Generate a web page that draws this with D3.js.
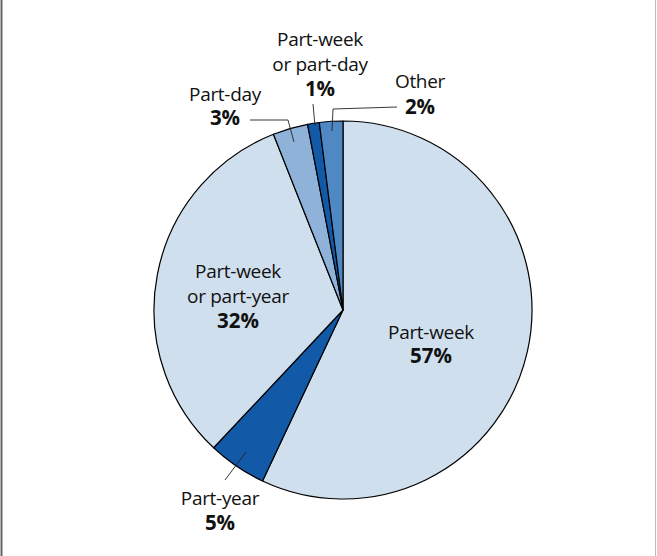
<!DOCTYPE html>
<html><head><meta charset="utf-8">
<script src="https://cdn.jsdelivr.net/npm/d3@7"></script>
<style>body{margin:0;background:#fff}text{font-family:"Open Sans","Noto Sans",sans-serif;font-size:19px;fill:#111;letter-spacing:-0.3px}</style>
</head><body><svg id="c" width="657" height="556"></svg>
<script>
const categories = ["Part-week","Part-year","Part-week or part-year","Part-day","Part-week or part-day","Other"];
const values = [57,5,32,3,1,2];
const colors = ["#cfdfee","#1259a8","#cfdfee","#8fb2d9","#1259a8","#5088c4"];
const labelLines = [["Part-week"],["Part-year"],["Part-week","or part-year"],["Part-day"],["Part-week","or part-day"],["Other"]];

const svg = d3.select("#c");
svg.append("line").attr("x1",1.5).attr("x2",1.5).attr("y1",0).attr("y2",556).attr("stroke","#666").attr("stroke-width",2);
svg.append("line").attr("x1",655.5).attr("x2",655.5).attr("y1",0).attr("y2",556).attr("stroke","#bbb").attr("stroke-width",1);

const cx=343, cy=310, R=189;
const pie = d3.pie().sort(null).value(d=>d)(values);
const arc = d3.arc().innerRadius(0).outerRadius(R);
const g = svg.append("g").attr("transform",`translate(${cx},${cy})`);
g.selectAll("path").data(pie).join("path").attr("d",arc)
  .attr("fill",(d,i)=>colors[i]).attr("stroke","#000").attr("stroke-width",1.2).attr("stroke-linejoin","round");

// label first-line baselines and line spacing
const labelPos = [[431,339,24],[220,505,25],[238,278,25],[225,101,24],[320,46,25],[420,88,26]];
labelPos.forEach((p,i)=>{
  const lines = labelLines[i];
  const t = svg.append("text").attr("text-anchor","middle").attr("x",p[0]).attr("y",p[1]);
  lines.forEach((l,j)=>t.append("tspan").attr("x",p[0]).attr("dy",j?p[2]:0).text(l));
  t.append("tspan").attr("x",p[0]).attr("dy",p[2]).attr("font-weight","bold").attr("font-size","20.5px").attr("letter-spacing","0px").text(values[i]+"%");
});

// leader lines
const leaders = [
  [[250,120],[288,120],[294,142]],
  [[313,104],[315,126]],
  [[397,107],[333,109],[332,131]],
  [[225,480],[246,452]]
];
leaders.forEach(pts=>svg.append("path").attr("d",d3.line()(pts)).attr("fill","none").attr("stroke","#222").attr("stroke-width",0.9));
</script></body></html>
